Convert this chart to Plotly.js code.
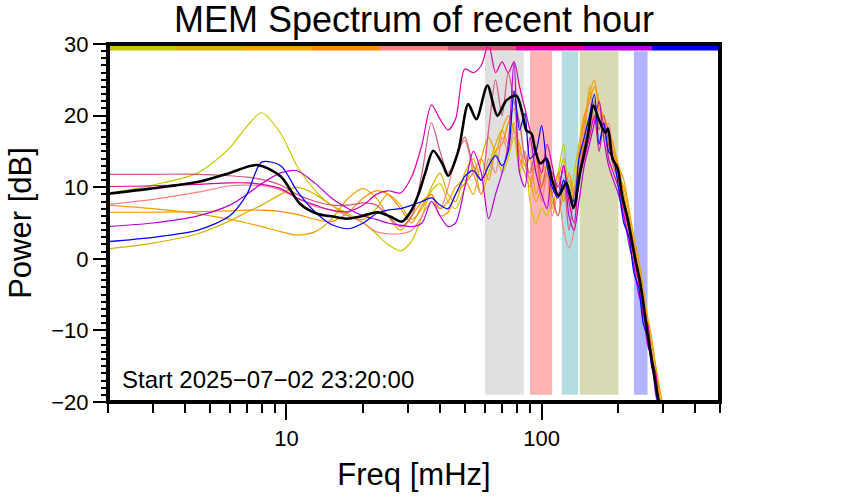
<!DOCTYPE html>
<html><head><meta charset="utf-8">
<script src="https://cdn.plot.ly/plotly-3.0.1.min.js"></script>
<style>html,body{margin:0;padding:0;background:#fff}</style>
</head><body><div id="chart" style="width:842px;height:500px"></div>
<script>
// shared frequency grid (mHz) for the coloured spectra
const freq = [2,3,4.5,6,7,8,9.5,11,13,15,17.5,20,22.5,25,28,31,34,37,40,43,46,50,54,58,62,66,70,74,78,82,86,90,95,100,105,110,116,122,128,134,140,147,154,161,168,175,183,191,200,210,220,230,240,250,260,270,280,290,300];

const seriesColors = ['#c8c800','#d8b000','#f0a000','#ff8c00','#ff8080','#d05878','#e000a8','#b800d8','#0000ff'];

const pYellowGreen = [9.1,10.3,12,15.5,18.5,20.4,17.5,13,9.5,7.5, 6.3,5,3.5,2,1.1,2.5,6,9.5,10.5,8, 7,10,13,9,12,15,12,14,17,12, 15,8,5,7,6,9,12,16,8,12, 16,20,17,22,18,20,16,14,11,8, 5,1,-2,-6,-10,-14,-18,-21,-24];
const pGold = [1.4,2.2,3.5,5.3,6.5,7.5,9,10,9,7.5, 6,5.5,7,9,7.5,5.5,7,10,12,9, 8,12,14,11,13,16,18,16,19,15, 13,11,8,10,12,8,6,9,11,8, 13,17,24,20,22,19,17,15,12,10, 6,2,-1,-5,-9,-12,-15,-19,-22];
const pOrange = [7.5,7,6.3,5.5,5,4.5,3.8,3.3,3.8,5.5, 8.5,9.8,8.5,6,4,6,8,9,7,8, 10,11,9,14,17,15,18,20,18,16, 13,14,9,12,13,7,11,14,9,10, 15,19,23,25,21,20,18,16,13,11, 7,3,0,-4,-8,-11,-15,-18,-21];
const pDarkOrange = [6.5,6.5,6.6,6.7,6.8,6.8,6.6,6.2,5.5,5.2, 6.5,8.5,9.5,9,7,5,7.5,9,6,6.5, 9,10.5,12,14,11,15,16,19,21,14, 12,10,14,10,12,9,12,8,12,9, 14,20,22,24,22,19,18,15,13,9, 5,2,-2,-6,-9,-13,-16,-20,-23];
const pSalmon = [7.6,8.3,9.3,10.2,10.3,10.2,9.6,8.5,7.3,6.8, 6,5,3.8,3.5,3.5,4,6,8,7,10, 14,16.5,12,9,14,12,17,15,18,13, 15,11,13,8,12,6,9,4,1.5,4, 12,18,22,19,21,17,19,14,11,7, 3,1,-4,-5,-11,-13,-18,-20,-24];
const pRose = [11.8,11.8,11.8,11.6,11.4,11.1,10.3,9,8,7.5, 7.5,7.8,7.5,6,4.5,6,12,19,15,12, 14,17,13,11,18,25,20,26,22,19, 14,12,15,10,13,9,6,11,4,9, 12,16,19,22,18,20,16,13,11,6, 3,-1,-3,-8,-10,-15,-17,-22,-24];
const pMagenta = [10.1,10.2,10.4,10.6,10.6,10.4,9.8,8.5,7.5,6.8, 6.6,7.5,9,9.5,9.2,11.5,16,21.5,19.5,18, 19.5,26.5,26,27,30,26,27.5,26,27.5,24, 21,18,15,12,16,13,9,13,8,5, 11,14,17,20,15,19,14,12,10,7, 4,0,-3,-8,-9,-14,-16,-21,-23];
const pPurple = [4.5,5,6,7.5,9,10.5,12,12.3,10.5,8.5, 7,6,5.5,5,4.7,4.5,5,8,6,4.5, 5,10,15,12,5.6,9,12,16,27.5,12, 10,17,12,9,7,12,10,13,6,4, 8,13,16,19,22,17,13,11,9,6, 2,-1,-5,-7,-12,-14,-19,-21,-24];
const pBlue = [2.4,3,4,6,9,13.5,13,9.5,6.5,4.8, 4.2,5,6.3,6.8,7,7.5,8,8.5,7.5,7, 9,11.5,12.3,11,13,14.4,13,15,23.5,18, 20.3,14,15,18.6,13,10,8.5,11,9,8, 14,17,20,23,16,19,15,14,10,5, 3,-2,-4,-9,-11,-15,-18,-22,-24];

// mean spectrum (black)
const meanFreq = [2,2.92,4.59,6,7.68,9.5,11.3,13.2,15.25,17.3,19.5,22.7,25.5,28.4,30.6,32.9,35,37.6,40.8,43.1,47.2,51.6,55.5,61.3,67.1,72.7,79.6,84.1,87.2,91.2,94.5,98.9,104.4,110.2,116.4,125,133.2,142,151.2,159.6,167,177.8,182,189.5,198.2,207.4,216.8,223,233.3,243.9,259.9,274.4,287,300];
const meanPower = [9.1,9.8,10.8,12,13.1,11.5,7.7,6.3,5.9,5.6,5.9,6.5,5.9,5.2,6.5,9,12,15.1,13.3,11.6,15.1,21.6,19.5,24.2,20,22.1,22.8,20.3,17.9,17.5,15.1,13.3,14,10.9,8.8,10.6,7.1,12.3,16.9,21.4,19.6,17.6,18.2,14,12.7,8.6,5.8,3.5,-0.2,-3.5,-10.4,-15.5,-19.7,-22];

// frequency bands (mHz)
const bandLo = [60,90,120,141,230];
const bandHi = [85,110,139,200,260];
const bandColors = ['#e0e0e0','#ffb3b3','#b3dde0','#d9d9b3','#b3b3ff'];
const bandBottom = -19, bandTop = 29.0;

const xMajor = [10,100];
const xMajorText = ['10','100'];
const xMinor = [2,3,4,5,6,7,8,9,20,30,40,50,60,70,80,90,200,300,400,500];

const startLabel = 'Start 2025\u221207\u221202 23:20:00';

const traces = [];
bandLo.forEach((lo,i)=>{
  traces.push({x:[lo,lo,bandHi[i],bandHi[i]], y:[bandBottom,bandTop,bandTop,bandBottom],
    type:'scatter', mode:'lines', fill:'toself', fillcolor:bandColors[i],
    line:{width:0,color:bandColors[i]}, hoverinfo:'skip', showlegend:false});
});
const colored = [pYellowGreen,pGold,pOrange,pDarkOrange,pSalmon,pRose,pMagenta,pPurple,pBlue];
colored.forEach((vals,i)=>{
  traces.push({x:freq, y:vals, type:'scatter', mode:'lines',
    line:{color:seriesColors[i], width:1.2, shape:'spline', smoothing:0.8}, showlegend:false});
});
traces.push({x:meanFreq, y:meanPower, type:'scatter', mode:'lines',
  line:{color:'#000000', width:2.6, shape:'spline', smoothing:0.8}, showlegend:false});

const shapes = [];
seriesColors.forEach((c,i)=>{
  shapes.push({type:'line', xref:'paper', yref:'y', x0:i/9, x1:(i+1)/9, y0:29.45, y1:29.45,
    line:{color:c, width:5}, layer:'below'});
});
shapes.push({type:'rect', xref:'paper', yref:'paper', x0:0, x1:1, y0:0, y1:1,
  line:{color:'black', width:4}, layer:'above'});

const font = 'Liberation Sans, Arial, Helvetica, sans-serif';
const layout = {
  width:842, height:500,
  margin:{l:108, r:122, t:44, b:98},
  paper_bgcolor:'white', plot_bgcolor:'white',
  font:{family:font, color:'black'},
  showlegend:false,
  title:{text:'MEM Spectrum of recent hour', font:{size:36, family:font, color:'black'},
    x:0.5, xref:'paper', xanchor:'center', y:0.962, yref:'container', yanchor:'middle'},
  xaxis:{type:'log', range:[Math.log10(2), Math.log10(500)],
    tickmode:'array', tickvals:xMajor, ticktext:xMajorText,
    ticks:'outside', ticklen:17, tickwidth:2, tickcolor:'black',
    tickfont:{size:22, family:font, color:'black'},
    minor:{tickmode:'array', tickvals:xMinor, ticks:'outside', ticklen:10, tickwidth:2, tickcolor:'black', showgrid:false},
    showgrid:false, zeroline:false, showline:false,
    title:{text:'Freq [mHz]', font:{size:31, family:font, color:'black'}, standoff:12}},
  yaxis:{range:[-20,30], tickmode:'linear', tick0:0, dtick:10,
    ticks:'outside', ticklen:14, tickwidth:2, tickcolor:'black',
    tickfont:{size:22, family:font, color:'black'},
    minor:{dtick:1, ticks:'outside', ticklen:6, tickwidth:2, tickcolor:'black', showgrid:false},
    showgrid:false, zeroline:false, showline:false,
    title:{text:'Power [dB]', font:{size:31, family:font, color:'black'}, standoff:10}},
  shapes:shapes,
  annotations:[{text:startLabel, xref:'paper', yref:'y', x:0.02, y:-16.9,
    xanchor:'left', yanchor:'middle', showarrow:false, font:{size:24, family:font, color:'black'}}]
};
Plotly.newPlot('chart', traces, layout, {displayModeBar:false, staticPlot:true});
</script></body></html>
